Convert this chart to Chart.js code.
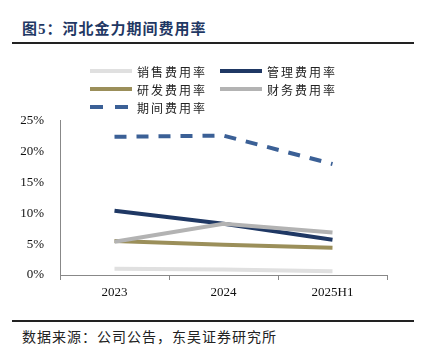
<!DOCTYPE html>
<html><head><meta charset="utf-8">
<script src="https://cdn.jsdelivr.net/npm/chart.js@4.4.0/dist/chart.umd.min.js"></script>
<style>
html,body{margin:0;padding:0;background:#fff;width:424px;height:360px;overflow:hidden;position:relative;font-family:"Liberation Serif","Noto Sans CJK SC",serif;}
#title{position:absolute;left:22px;top:17px;font-size:15px;font-weight:bold;color:#1f3864;font-family:"Liberation Serif","Noto Sans CJK SC",serif;letter-spacing:1px;white-space:nowrap;}
#tline{position:absolute;left:12px;top:42px;width:402px;height:2px;background:#222;}
#fline{position:absolute;left:12px;top:320px;width:402px;height:2px;background:#222;}
#foot{position:absolute;left:22px;top:326px;font-size:14px;color:#222;font-family:"Noto Sans CJK SC",sans-serif;letter-spacing:1px;white-space:nowrap;}
#legend{position:absolute;left:0;top:0;width:424px;height:120px;z-index:2;}
.li{position:absolute;display:flex;align-items:center;font-size:12px;color:#222;font-family:"Noto Sans CJK SC",sans-serif;letter-spacing:2px;white-space:nowrap;}
.li canvas{margin-right:5px;flex:none;}
#wrap{position:absolute;left:0;top:105px;width:424px;height:200px;}
</style></head><body>
<div id="title">图5：河北金力期间费用率</div>
<div id="tline"></div>
<div id="legend"></div>
<div id="wrap"><canvas id="c"></canvas></div>
<div id="fline"></div>
<div id="foot">数据来源：公司公告，东吴证券研究所</div>
<script>
const categories = ["2023", "2024", "2025H1"];
const seriesNames = ["销售费用率", "管理费用率", "研发费用率", "财务费用率", "期间费用率"];
const salesRate = [1.0, 0.9, 0.6];
const adminRate = [10.4, 8.3, 5.7];
const rndRate = [5.5, 4.9, 4.4];
const financeRate = [5.4, 8.3, 6.9];
const periodRate = [22.4, 22.6, 18.0];
const yTicks = [0, 5, 10, 15, 20, 25];

const colors = ["#e0e0e0", "#1f3864", "#9b8f5a", "#b3b3b3", "#3b6096"];
const values = [salesRate, adminRate, rndRate, financeRate, periodRate];
const datasets = seriesNames.map((n, i) => ({
  label: n,
  data: values[i],
  borderColor: colors[i],
  backgroundColor: colors[i],
  borderWidth: 4,
  pointRadius: 0,
  borderDash: i === 4 ? [12, 10] : [],
  borderCapStyle: 'butt',
  tension: 0,
  order: i === 4 ? 0 : 5 - i
}));

// legend
const legPos = [[90, 71], [220, 71], [90, 89], [220, 89], [90, 107]];
const leg = document.getElementById('legend');
datasets.forEach((d, i) => {
  const div = document.createElement('div');
  div.className = 'li';
  div.style.left = legPos[i][0] + 'px';
  div.style.top = (legPos[i][1] - 9) + 'px';
  const cv = document.createElement('canvas');
  cv.width = 42; cv.height = 18;
  cv.style.width = '42px'; cv.style.height = '18px';
  const g = cv.getContext('2d');
  g.strokeStyle = d.borderColor; g.lineWidth = 4;
  g.setLineDash(i === 4 ? [13, 12] : []);
  g.beginPath(); g.moveTo(0, 9); g.lineTo(42, 9); g.stroke();
  div.appendChild(cv);
  const sp = document.createElement('span');
  sp.textContent = d.label;
  div.appendChild(sp);
  leg.appendChild(div);
});

new Chart(document.getElementById('c'), {
  type: 'line',
  data: { labels: categories, datasets },
  options: {
    responsive: true, maintainAspectRatio: false, animation: false,
    layout: { padding: { top: 11, right: 37, left: 0, bottom: 0 } },
    plugins: { legend: { display: false }, tooltip: { enabled: false } },
    scales: {
      x: {
        offset: true,
        grid: { display: true, drawOnChartArea: false, drawTicks: true, tickLength: 5, color: '#888', offset: true },
        border: { display: true, color: '#888', width: 1 },
        ticks: { color: '#111', font: { family: 'Liberation Serif', size: 13 }, padding: 5 },
        afterFit: s => { s.height = 30; }
      },
      y: {
        min: 0, max: 25,
        afterBuildTicks: s => { s.ticks = yTicks.map(v => ({ value: v })); },
        grid: { display: false },
        border: { display: true, color: '#888', width: 1 },
        ticks: { color: '#111', font: { family: 'Liberation Serif', size: 13 }, padding: 8, callback: v => v + '%' },
        afterFit: s => { s.width = 60; }
      }
    }
  }
});
</script>
</body></html>
